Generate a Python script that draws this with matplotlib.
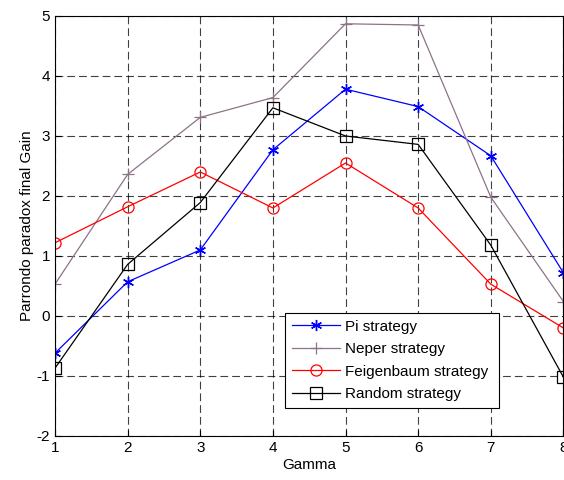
import matplotlib.pyplot as plt

gamma = [1, 2, 3, 4, 5, 6, 7, 8]
pi_gain = [-0.62, 0.57, 1.10, 2.77, 3.78, 3.49, 2.67, 0.72]
neper_gain = [0.53, 2.36, 3.31, 3.64, 4.87, 4.85, 1.98, 0.24]
feigenbaum_gain = [1.22, 1.82, 2.40, 1.80, 2.55, 1.80, 0.53, -0.20]
random_gain = [-0.87, 0.86, 1.89, 3.47, 3.00, 2.86, 1.18, -1.02]

plt.rcParams.update({
    "font.family": "Liberation Sans",
    "font.size": 11,
    "axes.unicode_minus": False,
})

fig = plt.figure(figsize=(5.64, 4.8), dpi=100)
ax = fig.add_axes([0.0975, 0.0917, 0.9015, 0.875])

ax.plot(gamma, pi_gain, color="blue", lw=0.9, marker=(6, 2, 0), ms=8, mew=1.0,
        label="Pi strategy")
ax.plot(gamma, neper_gain, color="#8c7388", lw=0.9, marker="+", ms=9, mew=0.9,
        label="Neper strategy")
ax.plot(gamma, feigenbaum_gain, color="red", lw=0.9, marker="o", ms=8,
        mfc="none", mew=0.9, label="Feigenbaum strategy")
ax.plot(gamma, random_gain, color="black", lw=0.9, marker="s", ms=8,
        mfc="none", mew=0.9, label="Random strategy")

ax.set_xlim(1, 8)
ax.set_ylim(-2, 5)
ax.set_xticks(gamma)
ax.set_yticks(range(-2, 6))
ax.grid(True, color="black", ls=(0, (7, 3.6)), lw=0.8, alpha=0.75)
ax.tick_params(direction="in", length=4, width=0.8)
for s in ax.spines.values():
    s.set_linewidth(0.8)

ax.set_xlabel("Gamma", labelpad=2)
ax.set_ylabel("Parrondo paradox final Gain", labelpad=2)

leg = ax.legend(loc="lower left", bbox_to_anchor=(0.453, 0.066, 0.42, 0.23),
                mode="expand", fancybox=False, framealpha=1, edgecolor="black",
                borderaxespad=0, borderpad=0.45, handlelength=3.1,
                handletextpad=0.35, labelspacing=0.56)
leg.get_frame().set_linewidth(0.8)

fig.savefig("out.png", dpi=100)
